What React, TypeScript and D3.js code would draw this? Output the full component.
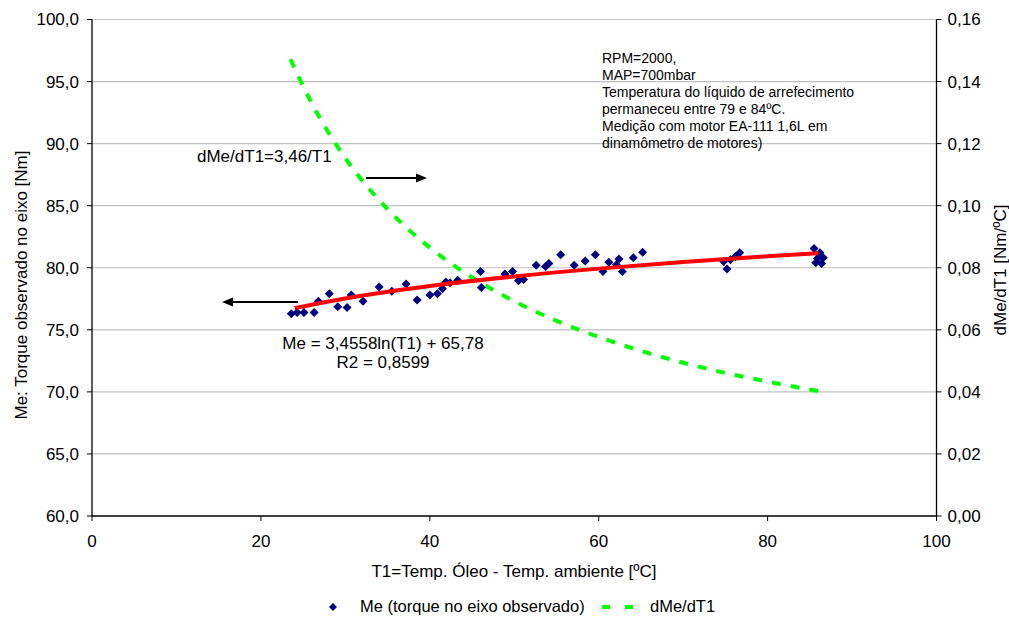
import React from "react";
import * as d3 from "d3";

const meT1 = [23.6, 24.3, 25.1, 26.3, 26.8, 28.1, 29.1, 30.2, 30.7, 32.1, 34.0, 35.5, 37.2, 38.5, 40.0, 40.9, 41.5, 41.9, 42.4, 43.3, 46.0, 46.1, 48.9, 49.8, 50.5, 51.1, 52.6, 53.7, 54.1, 55.5, 57.1, 58.4, 59.6, 60.5, 61.2, 62.1, 62.4, 62.8, 64.1, 65.2, 74.8, 75.2, 75.6, 76.2, 76.7, 85.5, 85.7, 85.9, 86.2, 86.4, 86.6];
const meValues = [76.3, 76.4, 76.4, 76.4, 77.3, 77.9, 76.85, 76.8, 77.8, 77.3, 78.45, 78.1, 78.7, 77.4, 77.8, 77.9, 78.3, 78.85, 78.8, 79.0, 79.7, 78.4, 79.5, 79.7, 78.95, 79.05, 80.2, 80.1, 80.35, 81.05, 80.2, 80.55, 81.05, 79.7, 80.45, 80.25, 80.7, 79.7, 80.8, 81.25, 80.5, 79.9, 80.65, 80.9, 81.2, 81.55, 80.4, 80.75, 81.2, 80.35, 80.8];

const trendT1 = [24, 30, 40, 50, 60, 70, 80, 86];
const trendMe = [76.76, 77.53, 78.53, 79.3, 79.93, 80.46, 80.92, 81.17];

const derivT1 = [23.5, 26, 30, 35, 40, 45, 50, 55, 60, 65, 70, 75, 80, 86.3];
const derivValues = [0.1472, 0.1331, 0.1153, 0.0989, 0.0865, 0.0769, 0.0692, 0.0629, 0.0577, 0.0532, 0.0494, 0.0461, 0.0433, 0.0401];

const xTicks = [0, 20, 40, 60, 80, 100];
const leftTicks = [60, 65, 70, 75, 80, 85, 90, 95, 100];
const rightTicks = [0, 0.02, 0.04, 0.06, 0.08, 0.1, 0.12, 0.14, 0.16];

const noteLines = [
  "RPM=2000,",
  "MAP=700mbar",
  "Temperatura do líquido de arrefecimento",
  "permaneceu entre 79 e 84ºC.",
  "Medição com motor EA-111 1,6L em",
  "dinamômetro de motores)",
];

const FONT = "'Liberation Sans', Arial, sans-serif";

export default function App() {
  const W = 1009, H = 617;
  const L = 92, R = 936.5, T = 19.5, B = 516;
  const x = d3.scaleLinear().domain([0, 100]).range([L, R]);
  const yL = d3.scaleLinear().domain([60, 100]).range([B, T]);
  const yR = d3.scaleLinear().domain([0, 0.16]).range([B, T]);
  const fmt1 = (v: number) => d3.format(".1f")(v).replace(".", ",");
  const fmt2 = (v: number) => d3.format(".2f")(v).replace(".", ",");

  const trendLine = d3.line<number>().x((_, i) => x(trendT1[i])).y((d) => yL(d)).curve(d3.curveMonotoneX);
  const derivLine = d3.line<number>().x((_, i) => x(derivT1[i])).y((d) => yR(d)).curve(d3.curveMonotoneX);
  const diamond = (cx: number, cy: number, r: number) => `M${cx},${cy - r}L${cx + r},${cy}L${cx},${cy + r}L${cx - r},${cy}Z`;

  const FS = 17;

  return (
    <svg width={W} height={H} style={{ position: "absolute", left: 0, top: 0, background: "#fff" }} fontFamily={FONT}>
      {/* gridlines */}
      {leftTicks.filter((t) => t > 60).map((t) => (
        <line key={t} x1={L} x2={R} y1={yL(t)} y2={yL(t)} stroke="#c0c0c0" strokeWidth={1.2} />
      ))}
      {/* axes */}
      <line x1={L} x2={L} y1={T} y2={B} stroke="#000" strokeWidth={1.3} />
      <line x1={R} x2={R} y1={T} y2={B} stroke="#000" strokeWidth={1.3} />
      <line x1={L} x2={R} y1={B} y2={B} stroke="#000" strokeWidth={1.3} />
      {leftTicks.map((t) => (
        <g key={t}>
          <line x1={L - 5} x2={L} y1={yL(t)} y2={yL(t)} stroke="#000" />
          <text x={L - 13} y={yL(t)} dy="0.35em" textAnchor="end" fontSize={FS} fill="#000">{fmt1(t)}</text>
        </g>
      ))}
      {rightTicks.map((t) => (
        <g key={t}>
          <line x1={R} x2={R + 5} y1={yR(t)} y2={yR(t)} stroke="#000" />
          <text x={R + 11} y={yR(t)} dy="0.35em" textAnchor="start" fontSize={FS} fill="#000">{fmt2(t)}</text>
        </g>
      ))}
      {xTicks.map((t) => (
        <g key={t}>
          <line x1={x(t)} x2={x(t)} y1={B} y2={B + 5} stroke="#000" />
          <text x={x(t)} y={B + 25} dy="0.35em" textAnchor="middle" fontSize={FS} fill="#000">{t}</text>
        </g>
      ))}
      {/* axis titles */}
      <text x={514} y={577} textAnchor="middle" fontSize={FS} fill="#000">T1=Temp. Óleo - Temp. ambiente [ºC]</text>
      <text transform="translate(27,285) rotate(-90)" textAnchor="middle" fontSize={FS} fill="#000">Me: Torque observado no eixo [Nm]</text>
      <text transform="translate(1006,270) rotate(-90)" textAnchor="middle" fontSize={FS} fill="#000">dMe/dT1 [Nm/ºC]</text>

      {/* derivative curve */}
      <path d={derivLine(derivValues) || ""} fill="none" stroke="#00ff00" strokeWidth={4} strokeDasharray="9,10" />
      {/* data points */}
      {meValues.map((v, i) => (
        <path key={i} d={diamond(x(meT1[i]), yL(v), 4.5)} fill="#000080" />
      ))}
      {/* trend line */}
      <path d={trendLine(trendMe) || ""} fill="none" stroke="#ff0000" strokeWidth={4} />

      {/* arrows */}
      <line x1={298} x2={230} y1={302} y2={302} stroke="#000" strokeWidth={2} />
      <path d="M222,302L233,297.5L233,306.5Z" fill="#000" />
      <line x1={366} x2={418} y1={178} y2={178} stroke="#000" strokeWidth={2} />
      <path d="M427,178L416,173.5L416,182.5Z" fill="#000" />

      {/* annotations */}
      <text x={197} y={162} fontSize={FS} fill="#000">dMe/dT1=3,46/T1</text>
      <text x={383} y={349} textAnchor="middle" fontSize={FS} fill="#000">Me = 3,4558ln(T1) + 65,78</text>
      <text x={383} y={368} textAnchor="middle" fontSize={FS} fill="#000">R2 = 0,8599</text>
      {noteLines.map((s, i) => (
        <text key={i} x={602} y={63 + i * 17} fontSize={14} fill="#000">{s}</text>
      ))}

      {/* legend */}
      <path d={diamond(333, 607, 4)} fill="#000080" />
      <text x={360} y={612} fontSize={16.5} fill="#000">Me (torque no eixo observado)</text>
      <line x1={602} x2={634} y1={607} y2={607} stroke="#00ff00" strokeWidth={4} strokeDasharray="8,15" />
      <text x={650} y={612} fontSize={16.5} fill="#000">dMe/dT1</text>
    </svg>
  );
}
